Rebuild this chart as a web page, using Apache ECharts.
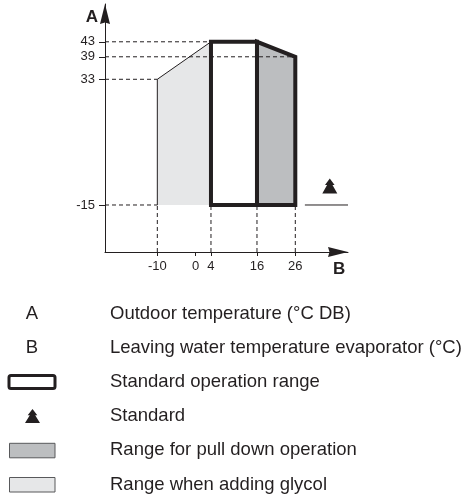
<!DOCTYPE html>
<html>
<head>
<meta charset="utf-8">
<script src="https://cdn.jsdelivr.net/npm/echarts@6/dist/echarts.min.js"></script>
<style>
  html, body { margin: 0; padding: 0; background: #fff; }
  #chart { width: 462px; height: 495px; }
</style>
</head>
<body>
<div id="chart"></div>
<script>
// B = leaving water temperature (°C), A = outdoor temperature (°C DB)
const xTicks = [-10, 0, 4, 16, 26];
const yTicks = [-15, 33, 39, 43];

// glycol range (light grey)
const glycolB = [-10, -10, 4, 4];
const glycolA = [-15, 33, 43, -15];
// standard operation range (white, thick frame)
const standardB = [4, 4, 16, 16];
const standardA = [-15, 43, 43, -15];
// pull down range (mid grey)
const pulldownB = [16, 16, 26, 26];
const pulldownA = [-15, 43, 39, -15];

// dashed guides: [A level, B where it stops]
const guideH = [[43, 4], [39, 26], [33, -10], [-15, -10]];
const guideV = [-10, 4, 16, 26];

// "standard" marker and its line at A = -15
const standardMark = [35, -15];
const standardLineB = [28.5, 39.75];

const legendKeys = ['A', 'B'];
const legendLabels = [
  'Outdoor temperature (°C DB)',
  'Leaving water temperature evaporator (°C)',
  'Standard operation range',
  'Standard',
  'Range for pull down operation',
  'Range when adding glycol'
];

const INK = '#231f20';
const FONT = '"Liberation Sans", Arial, Helvetica, sans-serif';
const X_MIN = -23.65, X_MAX = 39.75;
const Y_MIN = -32.95, Y_MAX = 61.75;

// the drawing is schematic: the part above 33 is stretched
const STRETCH = 1.432;
function ys(a) { return a <= 33 ? a : 33 + (a - 33) * STRETCH; }
function yinv(v) { return v <= 33 ? v : 33 + (v - 33) / STRETCH; }

const ARROW2 = 'path://M50,0 L82,44 L68,44 L100,100 L0,100 L32,44 L18,44 Z';
const AXIS_ARROW = 'path://M5,0 L10,20 L5,18.5 L0,20 Z';

function area(name, bs, as, fill, stroke, width, edgeOnly) {
  return {
    type: 'custom',
    name: name,
    z: 2,
    silent: true,
    data: bs.map((b, i) => [b, ys(as[i])]),
    renderItem: function (params, api) {
      if (params.dataIndex !== 0) return;
      const pts = bs.map((b, i) => api.coord([b, ys(as[i])]));
      if (edgeOnly) {
        return {
          type: 'group',
          children: [
            { type: 'polygon', shape: { points: pts }, style: { fill: fill } },
            { type: 'polyline', shape: { points: pts.slice(0, 3) }, style: { fill: null, stroke: stroke, lineWidth: width } }
          ]
        };
      }
      return {
        type: 'polygon',
        shape: { points: pts },
        style: { fill: fill, stroke: stroke, lineWidth: width, lineJoin: 'miter' }
      };
    }
  };
}

function dashed(points) {
  return {
    type: 'line',
    z: 3,
    silent: true,
    showSymbol: false,
    data: points,
    lineStyle: { color: INK, width: 1, type: [4, 3] }
  };
}

const series = [
  area('glycol', glycolB, glycolA, '#e6e7e8', INK, 1, true),
  area('pulldown', pulldownB, pulldownA, '#bcbec0', INK, 4, false),
  area('standard', standardB, standardA, '#ffffff', INK, 4, false)
];
guideH.forEach(g => series.push(dashed([[X_MIN, ys(g[0])], [g[1], ys(g[0])]])));
guideV.forEach(b => series.push(dashed([[b, Y_MIN], [b, ys(-15)]])));
series.push({
  type: 'line',
  z: 3,
  silent: true,
  showSymbol: false,
  data: standardLineB.map(b => [b, ys(standardMark[1])]),
  lineStyle: { color: INK, width: 1 }
});
series.push({
  type: 'scatter',
  z: 4,
  silent: true,
  symbol: ARROW2,
  symbolSize: [15, 15],
  symbolOffset: [0, -19],
  itemStyle: { color: INK, opacity: 1 },
  data: [[standardMark[0], ys(standardMark[1])]]
});

// legend below the chart
const graphic = [];
const rowY = legendLabels.map((_, i) => 313.5 + i * 34.2);
legendLabels.forEach((t, i) => {
  graphic.push({
    type: 'text', x: 110, y: rowY[i],
    style: { text: t, font: '18.5px ' + FONT, fill: INK, verticalAlign: 'middle' }
  });
});
legendKeys.forEach((k, i) => {
  graphic.push({
    type: 'text', x: 32, y: rowY[i],
    style: { text: k, font: '18.5px ' + FONT, fill: INK, align: 'center', verticalAlign: 'middle' }
  });
});
graphic.push({
  type: 'rect', shape: { x: 9, y: rowY[2] - 6.5, width: 46, height: 13, r: 2 },
  style: { fill: '#fff', stroke: INK, lineWidth: 3 }
});
const iconX = 25, iconY = rowY[3] - 7;
graphic.push({
  type: 'polygon',
  shape: { points: [[7.5, 0], [12.3, 6.2], [10.2, 6.2], [15, 14], [0, 14], [4.8, 6.2], [2.7, 6.2]].map(p => [p[0] + iconX, p[1] + iconY]) },
  style: { fill: INK }
});
graphic.push({
  type: 'rect', shape: { x: 9.5, y: rowY[4] - 7, width: 45.5, height: 14.5 },
  style: { fill: '#bcbec0', stroke: '#58595b', lineWidth: 1 }
});
graphic.push({
  type: 'rect', shape: { x: 9.5, y: rowY[5] - 7, width: 45.5, height: 14.5 },
  style: { fill: '#e6e7e8', stroke: '#58595b', lineWidth: 1 }
});

const chart = echarts.init(document.getElementById('chart'));
chart.setOption({
  backgroundColor: '#fff',
  animation: false,
  grid: { left: 105, top: 4, right: 114, bottom: 243 },
  xAxis: {
    type: 'value',
    min: X_MIN,
    max: X_MAX,
    name: 'B',
    nameLocation: 'end',
    nameGap: -15,
    nameTextStyle: { color: INK, fontFamily: FONT, fontSize: 17, fontWeight: 'bold', align: 'left', verticalAlign: 'top', padding: [9, 0, 0, 0] },
    splitLine: { show: false },
    axisLine: { onZero: false, lineStyle: { color: INK, width: 1 }, symbol: ['none', AXIS_ARROW], symbolSize: [10, 20], symbolOffset: [0, -10] },
    axisTick: { customValues: xTicks, length: 4, lineStyle: { color: INK } },
    axisLabel: { customValues: xTicks, margin: 8, color: INK, fontFamily: FONT, fontSize: 13 }
  },
  yAxis: {
    type: 'value',
    min: Y_MIN,
    max: Y_MAX,
    name: 'A',
    nameLocation: 'end',
    nameGap: -22,
    nameTextStyle: { color: INK, fontFamily: FONT, fontSize: 17, fontWeight: 'bold', align: 'right', padding: [0, 7, 0, 0] },
    splitLine: { show: false },
    axisLine: { show: true, onZero: false, lineStyle: { color: INK, width: 1 }, symbol: ['none', AXIS_ARROW], symbolSize: [10, 20], symbolOffset: [0, -10] },
    axisTick: { show: true, customValues: yTicks.map(ys), length: 6, lineStyle: { color: INK } },
    axisLabel: {
      customValues: yTicks.map(ys),
      margin: 10,
      color: INK,
      fontFamily: FONT,
      fontSize: 13,
      formatter: v => String(Math.round(yinv(v)))
    }
  },
  graphic: graphic,
  series: series
});
</script>
</body>
</html>
